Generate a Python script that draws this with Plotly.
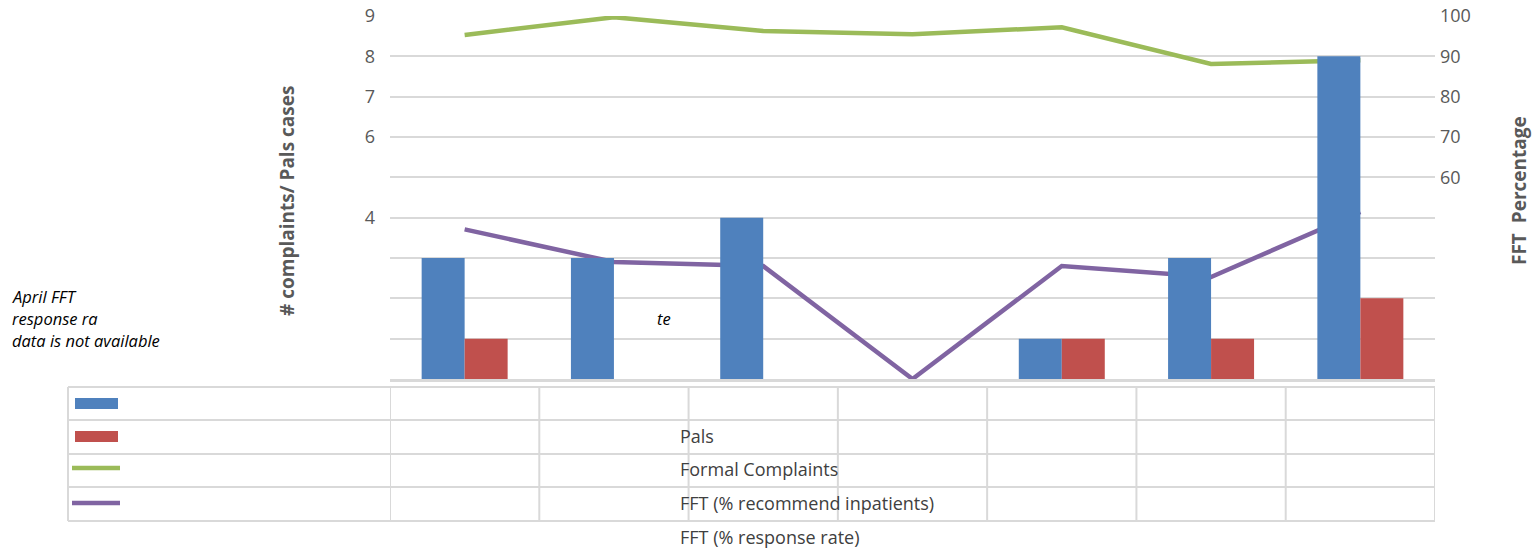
import plotly.graph_objects as go

categories = ["Apr", "May", "Jun", "Jul", "Aug", "Sep", "Oct"]
formal_complaints = [3, 3, 4, 0, 1, 3, 8]
pals = [1, 0, 0, 0, 1, 1, 2]
fft_recommend = [95.3, 99.7, 96.3, 95.5, 97.2, 88.1, 89.0]
fft_response = [47.1, 39.0, 38.0, 10.0, 38.0, 35.3, 51.4]
left_ticks = list(range(0, 10))
left_ticktext = ["", "", "", "", "4", "", "6", "7", "8", "9"]
right_ticks = list(range(10, 101, 10))
right_ticktext = ["", "", "", "", "", "60", "70", "80", "90", "100"]
table_labels = ["Pals", "Formal Complaints", "FFT (% recommend inpatients)", "FFT (% response rate)"]
note_lines = ["April FFT", "response ra", "data is not available"]

W, H = 1536, 551
L, R, T, B = 390, 1435, 16, 379


def px(x):
    return (x - L) / (R - L)


def py(y):
    return (B - y) / (B - T)


FONT = "Open Sans"
GRID = "#d9d9d9"
BLUE, RED, GREEN, PURPLE = "#4f81bd", "#c0504d", "#9bbb59", "#8064a2"

fig = go.Figure()
# lines on primary (drawn underneath), bars on overlaying axis (drawn on top)
fig.add_trace(go.Scatter(x=categories, y=fft_recommend, mode="lines", name="FFT (% recommend inpatients)",
                         line=dict(color=GREEN, width=4.5), yaxis="y", cliponaxis=False, showlegend=False))
fig.add_trace(go.Scatter(x=categories, y=fft_response, mode="lines", name="FFT (% response rate)",
                         line=dict(color=PURPLE, width=4.5), yaxis="y", cliponaxis=False, showlegend=False))
fig.add_trace(go.Bar(x=categories, y=formal_complaints, name="Formal Complaints", marker=dict(color=BLUE, line=dict(width=0)),
                     yaxis="y2", showlegend=False))
fig.add_trace(go.Bar(x=categories, y=pals, name="Pals", marker=dict(color=RED, line=dict(width=0)),
                     yaxis="y2", showlegend=False))

shapes = []
# table rows
row_y = [387, 420, 454, 487, 521]
for y in row_y:
    shapes.append(dict(type="line", xref="paper", yref="paper", x0=px(68), x1=1, y0=py(y), y1=py(y),
                       line=dict(color=GRID, width=2)))
shapes.append(dict(type="line", xref="paper", yref="paper", x0=px(68), x1=px(68), y0=py(387), y1=py(521),
                   line=dict(color=GRID, width=2)))
for i in range(len(categories) + 1):
    shapes.append(dict(type="line", xref="x", yref="paper", x0=i - 0.5, x1=i - 0.5, y0=py(387), y1=py(521),
                       line=dict(color=GRID, width=2)))
# legend keys
shapes.append(dict(type="rect", xref="paper", yref="paper", x0=px(75), x1=px(118), y0=py(398), y1=py(409),
                   fillcolor=BLUE, line=dict(width=0)))
shapes.append(dict(type="rect", xref="paper", yref="paper", x0=px(75), x1=px(118), y0=py(431), y1=py(442),
                   fillcolor=RED, line=dict(width=0)))
shapes.append(dict(type="line", xref="paper", yref="paper", x0=px(72), x1=px(120), y0=py(468), y1=py(468),
                   line=dict(color=GREEN, width=4.5)))
shapes.append(dict(type="line", xref="paper", yref="paper", x0=px(72), x1=px(120), y0=py(503), y1=py(503),
                   line=dict(color=PURPLE, width=4.5)))

annotations = []
label_y = [436, 469, 503, 537]
for lab, y in zip(table_labels, label_y):
    annotations.append(dict(text=lab, xref="paper", yref="paper", x=px(678), y=py(y), xanchor="left",
                            yanchor="middle", showarrow=False, font=dict(family=FONT, size=18, color="#404040")))
for lab, y in zip(note_lines, [296, 318, 340]):
    annotations.append(dict(text="<i>" + lab + "</i>", xref="paper", yref="paper", x=px(10), y=py(y),
                            xanchor="left", yanchor="middle", showarrow=False,
                            font=dict(family=FONT, size=16.5, color="#000000")))
annotations.append(dict(text="<i>te</i>", xref="paper", yref="paper", x=px(655), y=py(318), xanchor="left",
                        yanchor="middle", showarrow=False, font=dict(family=FONT, size=16.5, color="#000000")))
annotations.append(dict(text="<b># complaints/ Pals cases</b>", xref="paper", yref="paper", x=px(287), y=py(201),
                        textangle=-90, showarrow=False, xanchor="center", yanchor="middle",
                        font=dict(family=FONT, size=19, color="#595959")))
annotations.append(dict(text="<b>FFT  Percentage</b>", xref="paper", yref="paper", x=px(1519), y=py(191),
                        textangle=-90, showarrow=False, xanchor="center", yanchor="middle",
                        font=dict(family=FONT, size=19, color="#595959")))

fig.update_layout(
    width=W, height=H,
    margin=dict(l=L, r=W - R, t=T, b=H - B, pad=0, autoexpand=False),
    paper_bgcolor="white", plot_bgcolor="white",
    barmode="group", bargap=0.424, bargroupgap=0,
    font=dict(family=FONT, color="#595959"),
    xaxis=dict(type="category", showticklabels=False, ticks="", showgrid=False, zeroline=False,
               showline=True, linecolor=GRID, linewidth=2.5, range=[-0.5, 6.5], automargin=False),
    yaxis=dict(side="right", range=[10, 100], tickvals=right_ticks, ticktext=right_ticktext,
               showgrid=True, gridcolor=GRID, gridwidth=2, zeroline=False, showline=False, ticks="",
               tickfont=dict(family=FONT, size=18, color="#595959"), ticklabelstandoff=4, automargin=False),
    yaxis2=dict(side="left", overlaying="y", range=[0, 9], tickvals=left_ticks, ticktext=left_ticktext,
                showgrid=False, zeroline=False, showline=False, ticks="",
                tickfont=dict(family=FONT, size=18, color="#595959"), ticklabelstandoff=14, automargin=False),
    shapes=shapes,
    annotations=annotations,
)

fig.write_html("out.html")
